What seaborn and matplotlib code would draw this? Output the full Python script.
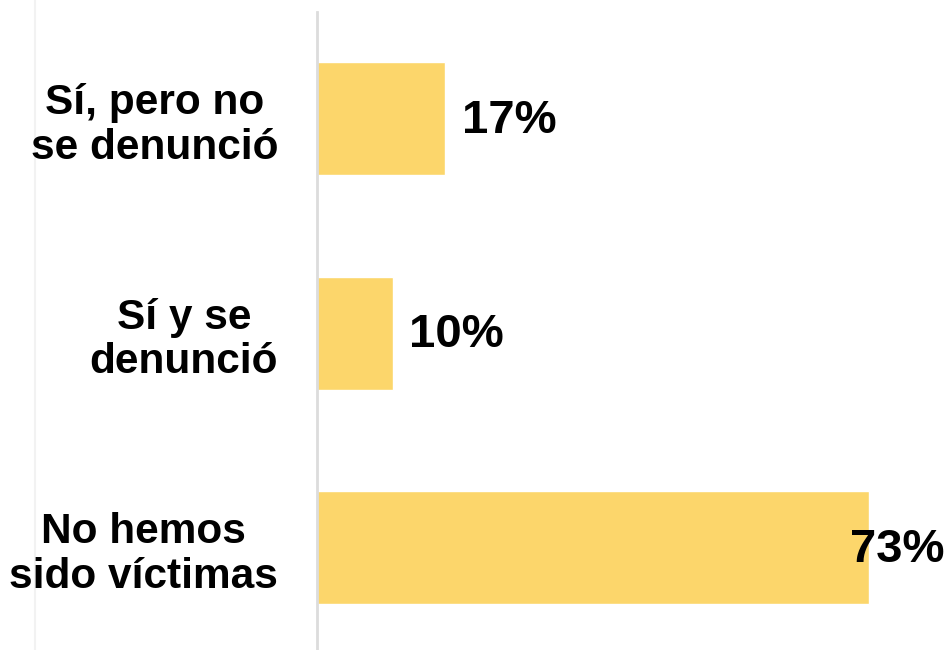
import numpy as np
import pandas as pd
import seaborn as sns
import matplotlib.pyplot as plt
from matplotlib.lines import Line2D

# Data
categories = ['Sí, pero no\nse denunció', 'Sí y se\ndenunció', 'No hemos\nsido víctimas']
values = [17, 10, 73]
value_labels = ['17%', '10%', '73%']

bar_color = '#FCD66B'

sns.set_theme(style='white')
plt.rcParams['font.family'] = ['Liberation Sans', 'DejaVu Sans']

df = pd.DataFrame({'cat': categories, 'val': values})

fig = plt.figure(figsize=(9.48, 6.5), dpi=100)
ax = fig.add_axes([317 / 948, 0, 1 - 317 / 948, 1 - 12 / 650])
ax.patch.set_alpha(0)

sns.barplot(data=df, y='cat', x='val', orient='h', color=bar_color,
            saturation=1, width=0.527, ax=ax)

ax.set_xlim(0, 83.5)
ax.set_ylim(2.478, -0.497)
ax.set_xlabel('')
ax.set_ylabel('')
ax.set_xticks([])

for s in ['top', 'right', 'bottom']:
    ax.spines[s].set_visible(False)
ax.spines['left'].set_color('#dcdcdc')
ax.spines['left'].set_linewidth(2)

ax.tick_params(axis='y', length=0, pad=28)
for t in ax.get_yticklabels():
    t.set_fontsize(30.5)
    t.set_fontweight('bold')
    t.set_color('black')
    t.set_multialignment('center')
    t.set_linespacing(1.15)

# value labels; the widest bar keeps its label inside the axes
xmax = ax.get_xlim()[1]
for i, (v, lab) in enumerate(zip(values, value_labels)):
    if v + 14 > xmax:
        ax.text(xmax - 0.4, i + 0.01, lab, ha='right', va='center', fontsize=34,
                fontweight='bold', color='black')
    else:
        ax.text(v + 2.2, i + 0.01, lab, ha='left', va='center', fontsize=34,
                fontweight='bold', color='black')

# faint background guide seen at the left edge (behind the text)
fig.add_artist(Line2D([35 / 948, 35 / 948], [0, 1], color='#f2f2f2', lw=1.5, zorder=-5))

fig.savefig('out.png', dpi=100, facecolor='white')
